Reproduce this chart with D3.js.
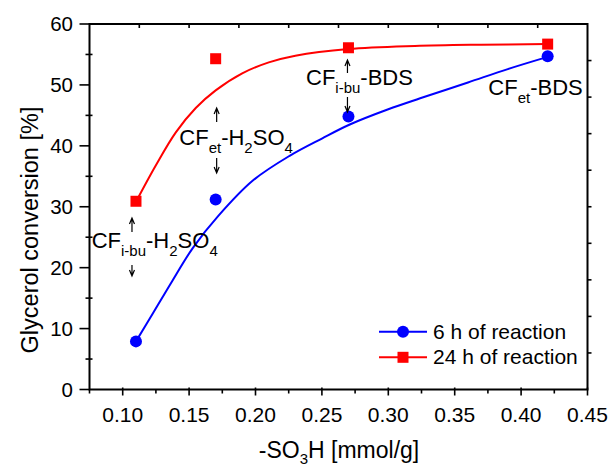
<!DOCTYPE html>
<html>
<head>
<meta charset="utf-8">
<script src="https://cdn.jsdelivr.net/npm/d3@7/dist/d3.min.js"></script>
<style>
  body { margin: 0; background: #fff; }
  text { font-family: "Liberation Sans", Arial, sans-serif; fill: #000; }
</style>
</head>
<body>
<div id="chart"></div>
<script>
// measured points
const loading = [0.11, 0.17, 0.27, 0.42];
const conv6h = [7.9, 31.2, 44.8, 54.7];
const conv24h = [30.9, 54.3, 56.1, 56.7];

// fitted curves
const fit6hX = [0.11, 0.123, 0.137, 0.153, 0.172, 0.198, 0.226, 0.25, 0.271, 0.30, 0.324, 0.36, 0.39, 0.42];
const fit6hY = [7.9, 12.6, 17.7, 23.3, 28.5, 34.3, 38.4, 41.2, 43.5, 46.0, 47.8, 50.4, 52.6, 54.6];
const fit24hX = [0.11, 0.125, 0.14, 0.155, 0.17, 0.19, 0.21, 0.23, 0.27, 0.32, 0.37, 0.42];
const fit24hY = [30.8, 36.8, 42.2, 46.2, 49.1, 51.9, 53.7, 54.8, 55.9, 56.4, 56.6, 56.7];

const xTicks = [0.10, 0.15, 0.20, 0.25, 0.30, 0.35, 0.40, 0.45];
const yTicks = [0, 10, 20, 30, 40, 50, 60];
const seriesNames = ["6 h of reaction", "24 h of reaction"];

// catalyst labels: [text, is subscript]
const labels = [
  [["CF", 0], ["i-bu", 1], ["-H", 0], ["2", 1], ["SO", 0], ["4", 1]],
  [["CF", 0], ["et", 1], ["-H", 0], ["2", 1], ["SO", 0], ["4", 1]],
  [["CF", 0], ["i-bu", 1], ["-BDS", 0]],
  [["CF", 0], ["et", 1], ["-BDS", 0]]
];

const W = 609, H = 467;
const pLeft = 89.5, pRight = 587.5, pTop = 24, pBottom = 389.5;

const svg = d3.select("#chart").append("svg")
  .attr("width", W).attr("height", H);

const x = d3.scaleLinear().domain([0.075, 0.45]).range([pLeft, pRight]);
const y = d3.scaleLinear().domain([0, 60]).range([pBottom, pTop]);

// minor ticks
const xMinor = d3.range(0.075, 0.4501, 0.05);
const yMinor = d3.range(5, 60, 10);

const axes = svg.append("g").attr("stroke", "#000").attr("stroke-width", 1.6);

// bottom axis ticks
xTicks.forEach(v => {
  axes.append("line").attr("x1", x(v)).attr("x2", x(v)).attr("y1", pBottom - 2).attr("y2", pBottom + 6);
});
xMinor.forEach(v => {
  axes.append("line").attr("x1", x(v)).attr("x2", x(v)).attr("y1", pBottom).attr("y2", pBottom + 4);
});
// left axis ticks
yTicks.forEach(v => {
  axes.append("line").attr("x1", pLeft - 10).attr("x2", pLeft).attr("y1", y(v)).attr("y2", y(v));
});
yMinor.forEach(v => {
  axes.append("line").attr("x1", pLeft - 4).attr("x2", pLeft + 3).attr("y1", y(v)).attr("y2", y(v));
});
// top/right axis ticks (10 divisions)
for (let i = 1; i < 10; i++) {
  const tx = pLeft + (pRight - pLeft) * i / 10;
  axes.append("line").attr("x1", tx).attr("x2", tx).attr("y1", pTop).attr("y2", pTop + 4);
  const ty = pTop + (pBottom - pTop) * i / 10;
  axes.append("line").attr("x1", pRight).attr("x2", pRight + 4).attr("y1", ty).attr("y2", ty);
}

// frame
svg.append("rect")
  .attr("x", pLeft).attr("y", pTop)
  .attr("width", pRight - pLeft).attr("height", pBottom - pTop)
  .attr("fill", "none").attr("stroke", "#000").attr("stroke-width", 2);

// tick labels
svg.append("g").selectAll("text").data(xTicks).join("text")
  .attr("x", d => x(d)).attr("y", pBottom + 32)
  .attr("text-anchor", "middle").attr("font-size", 21)
  .text(d => d3.format(".2f")(d));

svg.append("g").selectAll("text").data(yTicks).join("text")
  .attr("x", 73).attr("y", d => y(d) + 7)
  .attr("text-anchor", "end").attr("font-size", 20.5)
  .text(d => d);

// axis titles
const xt = svg.append("text")
  .attr("x", 339).attr("y", 458)
  .attr("text-anchor", "middle").attr("font-size", 23);
xt.append("tspan").text("-SO");
xt.append("tspan").attr("font-size", 15).attr("dy", 6).text("3");
xt.append("tspan").attr("dy", -6).text("H [mmol/g]");

svg.append("text")
  .attr("transform", "translate(38,230) rotate(-90)")
  .attr("text-anchor", "middle").attr("font-size", 23.5)
  .text("Glycerol conversion [%]");

// curves
const line = d3.line()
  .x(d => x(d[0])).y(d => y(d[1]))
  .curve(d3.curveCatmullRom.alpha(0.5));

svg.append("path")
  .datum(d3.zip(fit6hX, fit6hY))
  .attr("d", line).attr("fill", "none")
  .attr("stroke", "#0000ff").attr("stroke-width", 2);

svg.append("path")
  .datum(d3.zip(fit24hX, fit24hY))
  .attr("d", line).attr("fill", "none")
  .attr("stroke", "#ff0000").attr("stroke-width", 2);

// markers
svg.append("g").selectAll("circle").data(d3.zip(loading, conv6h)).join("circle")
  .attr("cx", d => x(d[0])).attr("cy", d => y(d[1]))
  .attr("r", 6).attr("fill", "#0000ff");

svg.append("g").selectAll("rect").data(d3.zip(loading, conv24h)).join("rect")
  .attr("x", d => x(d[0]) - 5.5).attr("y", d => y(d[1]) - 5.5)
  .attr("width", 11).attr("height", 11).attr("fill", "#ff0000");

// catalyst labels
const labelPos = [[91.7, 248], [179.3, 145], [306, 85], [488.3, 95]];
labels.forEach((parts, i) => {
  const t = svg.append("text")
    .attr("x", labelPos[i][0]).attr("y", labelPos[i][1])
    .attr("font-size", 22);
  let prev = 0;
  parts.forEach(([s, sub]) => {
    t.append("tspan")
      .attr("dy", (sub - prev) * 8)
      .attr("font-size", sub ? 15 : 22)
      .text(s);
    prev = sub;
  });
});

// arrows pointing to the two markers of each catalyst
function arrow(ax, tail, tip) {
  const dir = tip < tail ? 1 : -1;
  svg.append("path")
    .attr("d", `M${ax},${tail}L${ax},${tip}M${ax - 2.5},${tip + dir * 6}L${ax},${tip}L${ax + 2.5},${tip + dir * 6}`)
    .attr("fill", "none").attr("stroke", "#000").attr("stroke-width", 1.2);
}
const arrowOff = [-4, 1, -1];
const arrowSpans = [[232, 218, 265, 276], [122, 108, 158, 173], [73, 60, 97, 112]];
arrowSpans.forEach((s, i) => {
  const ax = x(loading[i]) + arrowOff[i];
  arrow(ax, s[0], s[1]);
  arrow(ax, s[2], s[3]);
});

// legend
const legY = [331.7, 357.3];
const colors = ["#0000ff", "#ff0000"];
const leg = svg.append("g");
seriesNames.forEach((name, i) => {
  leg.append("line")
    .attr("x1", 379).attr("x2", 427).attr("y1", legY[i]).attr("y2", legY[i])
    .attr("stroke", colors[i]).attr("stroke-width", 2);
  if (i === 0) {
    leg.append("circle").attr("cx", 403).attr("cy", legY[i]).attr("r", 6).attr("fill", colors[i]);
  } else {
    leg.append("rect").attr("x", 397.5).attr("y", legY[i] - 5.5)
      .attr("width", 11).attr("height", 11).attr("fill", colors[i]);
  }
  leg.append("text")
    .attr("x", 433).attr("y", legY[i] + 7)
    .attr("font-size", 21).text(name);
});
</script>
</body>
</html>
